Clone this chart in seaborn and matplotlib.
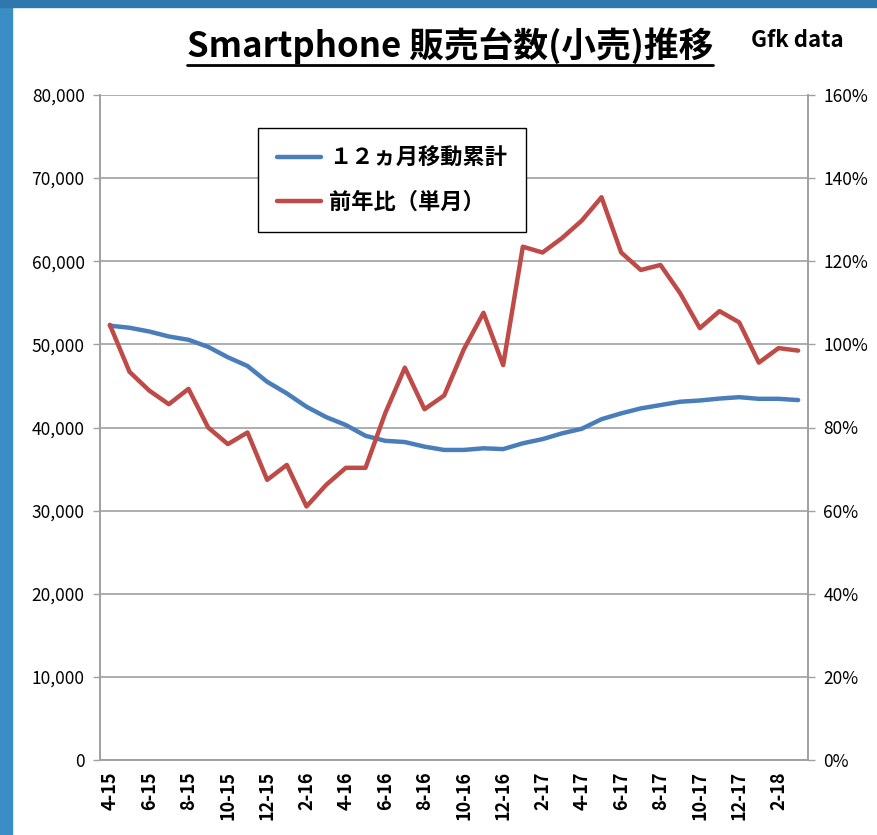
import matplotlib
matplotlib.use('Agg')
import matplotlib.pyplot as plt
from matplotlib.patches import Rectangle
from matplotlib.lines import Line2D
from matplotlib.ticker import FixedLocator, FuncFormatter
import seaborn as sns
import pandas as pd

# month labels (m-yy), Apr 2015 .. Mar 2018
months = ['4-15', '5-15', '6-15', '7-15', '8-15', '9-15', '10-15', '11-15', '12-15',
          '1-16', '2-16', '3-16', '4-16', '5-16', '6-16', '7-16', '8-16', '9-16',
          '10-16', '11-16', '12-16', '1-17', '2-17', '3-17', '4-17', '5-17', '6-17',
          '7-17', '8-17', '9-17', '10-17', '11-17', '12-17', '1-18', '2-18', '3-18']

# 12-month moving total (left axis)
moving_total = [52250, 52000, 51550, 50950, 50550, 49700, 48450, 47400, 45500,
                44100, 42500, 41250, 40300, 39000, 38400, 38250, 37700, 37300,
                37300, 37500, 37400, 38100, 38600, 39300, 39850, 41000, 41700,
                42300, 42700, 43100, 43250, 43480, 43650, 43450, 43450, 43300]

# year-on-year ratio, single month, in % (right axis)
yoy_pct = [104.7, 93.4, 88.9, 85.6, 89.3, 80.0, 76.0, 78.8, 67.4,
           71.0, 61.0, 66.2, 70.3, 70.3, 83.4, 94.4, 84.4, 87.7,
           98.8, 107.6, 95.0, 123.5, 122.1, 125.6, 129.8, 135.4, 122.1,
           117.9, 119.1, 112.3, 103.9, 108.0, 105.3, 95.6, 99.1, 98.5]

label_total = '１２ヵ月移動累計'
label_yoy = '前年比（単月）'

df = pd.DataFrame({'month': months, 'idx': range(len(months)),
                   'total': moving_total, 'yoy': yoy_pct})

sns.set_style('white')
plt.rcParams['font.family'] = ['Noto Sans CJK JP', 'DejaVu Sans']
plt.rcParams['text.color'] = 'black'
plt.rcParams['xtick.labelcolor'] = 'black'
plt.rcParams['ytick.labelcolor'] = 'black'

blue = '#4A7EBB'
red = '#BE4B48'
grid_gray = '#A0A0A0'

fig = plt.figure(figsize=(8.77, 8.35), dpi=100)
ax = fig.add_axes([100/877, 1 - 760/835, 708/877, 665/835])
ax2 = ax.twinx()

sns.lineplot(data=df, x='idx', y='total', ax=ax, color=blue, linewidth=3.2,
             label=label_total, legend=False)
sns.lineplot(data=df, x='idx', y='yoy', ax=ax2, color=red, linewidth=3.2,
             label=label_yoy, legend=False)

n = len(months)
ax.set_xlim(-0.5, n - 0.5)
ax.set_ylim(0, 80000)
ax2.set_ylim(0, 160)
ax.set_yticks(range(0, 80001, 10000))
ax2.set_yticks(range(0, 161, 20))
ax.yaxis.set_major_formatter(FuncFormatter(lambda v, p: f'{int(v):,}'))
ax2.yaxis.set_major_formatter(FuncFormatter(lambda v, p: f'{int(v)}%'))

# tick marks between categories, labels on every second category
ax.xaxis.set_major_locator(FixedLocator([i - 0.5 for i in range(0, n + 1, 2)]))
ax.xaxis.set_minor_locator(FixedLocator(list(range(0, n, 2))))
ax.set_xticklabels([], minor=False)
ax.set_xticklabels(months[::2], minor=True, rotation=90, fontweight='bold', fontsize=13)
ax.tick_params(axis='x', which='major', length=6, width=1, color=grid_gray, direction='out')
ax.tick_params(axis='x', which='minor', length=0, pad=8, labelcolor='black')
ax.tick_params(axis='y', length=5, width=1, color=grid_gray, direction='out',
               labelsize=12.5, pad=6, labelcolor='black')
ax2.tick_params(axis='y', length=5, width=1, color=grid_gray, direction='out',
                labelsize=12.5, pad=6, labelcolor='black')
ax.set_xlabel('')
ax.set_ylabel('')
ax2.set_ylabel('')

ax.yaxis.grid(True, color=grid_gray, linewidth=1.2)
ax.set_axisbelow(True)
for a in (ax, ax2):
    a.spines['top'].set_visible(False)
    for side in ('left', 'right', 'bottom'):
        a.spines[side].set_color(grid_gray)
        a.spines[side].set_linewidth(1.2)

h1, l1 = ax.get_legend_handles_labels()
h2, l2 = ax2.get_legend_handles_labels()
leg = ax2.legend(h1 + h2, l1 + l2, loc='upper left', bbox_to_anchor=(0.223, 0.951),
                 borderaxespad=0, frameon=True, fancybox=False, edgecolor='black',
                 framealpha=1, prop={'weight': 'bold', 'size': 16}, handlelength=2.0,
                 handletextpad=0.35, labelspacing=0.95, borderpad=0.85)
leg.get_frame().set_linewidth(1.0)

# title with underline
title = fig.text(0.513, 0.945, 'Smartphone 販売台数(小売)推移', ha='center', va='center',
                 fontsize=25, fontweight='bold', color='black')
fig.text(0.909, 0.952, 'Gfk data', ha='center', va='center', fontsize=16,
         fontweight='bold', color='black')
fig.canvas.draw()
bb = title.get_window_extent().transformed(fig.transFigure.inverted())
fig.add_artist(Line2D([bb.x0, bb.x1], [bb.y0 - 0.001, bb.y0 - 0.001], color='black',
                      linewidth=2, transform=fig.transFigure))

# blue slide frame
fig.add_artist(Rectangle((0, 0), 12/877, 1, transform=fig.transFigure, color='#3A8DC5', zorder=-1))
fig.add_artist(Rectangle((0, 1 - 7/835), 1, 7/835, transform=fig.transFigure, color='#2F78AE', zorder=-1))

fig.savefig('out.png', dpi=100)
